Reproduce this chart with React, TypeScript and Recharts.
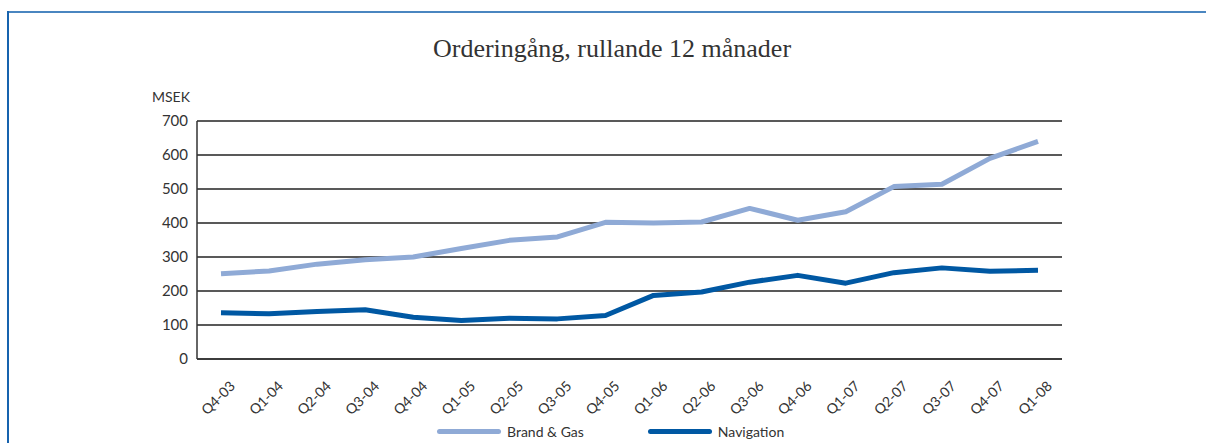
import { LineChart, Line, XAxis, YAxis, CartesianGrid } from "recharts";

const quarters = [
  "Q4-03", "Q1-04", "Q2-04", "Q3-04", "Q4-04", "Q1-05", "Q2-05", "Q3-05", "Q4-05",
  "Q1-06", "Q2-06", "Q3-06", "Q4-06", "Q1-07", "Q2-07", "Q3-07", "Q4-07", "Q1-08",
];
const brandGas = [251, 259, 279, 292, 300, 325, 349, 359, 402, 400, 403, 443, 408, 433, 507, 514, 590, 640];
const navigation = [136, 133, 140, 145, 123, 113, 120, 118, 128, 187, 197, 226, 246, 223, 254, 268, 258, 261];
const yTicks = [0, 100, 200, 300, 400, 500, 600, 700];

const LIGHT = "#8FAAD6";
const DARK = "#0058A3";
const FONT = "Lato, 'Open Sans', sans-serif";

const data = quarters.map((q, i) => ({ q, brand: brandGas[i], nav: navigation[i] }));

const QuarterTick = ({ x, y, payload }: any) => (
  <text
    transform={`translate(${x + 15},${y + 20}) rotate(-45)`}
    textAnchor="end"
    fontSize={14}
    fill="#333"
    fontFamily={FONT}
  >
    {payload.value}
  </text>
);

const legendItems = [
  { label: "Brand & Gas", color: LIGHT },
  { label: "Navigation", color: DARK },
];

export default function App() {
  return (
    <div style={{ position: "fixed", left: 0, top: 0, width: 1206, height: 443, background: "#fff", overflow: "hidden" }}>
      <div style={{ position: "absolute", left: 8, top: 11, right: 0, height: 2, background: "#4A86C0" }} />
      <div style={{ position: "absolute", left: 7, top: 11, width: 2, bottom: 0, background: "#1763AE" }} />
      <div
        style={{
          position: "absolute", left: 0, width: 1224, top: 34, textAlign: "center",
          fontFamily: "'Liberation Serif', serif", fontSize: 26, color: "#333",
        }}
      >
        Orderingång, rullande 12 månader
      </div>
      <div style={{ position: "absolute", left: 152, top: 88, fontFamily: FONT, fontSize: 14, color: "#333" }}>
        MSEK
      </div>
      <div style={{ position: "absolute", left: 0, top: 0 }}>
        <LineChart width={1206} height={443} data={data} margin={{ top: 121, right: 144, bottom: 0, left: 157 }}>
          <CartesianGrid vertical={false} stroke="#222" strokeWidth={1.3} />
          <XAxis
            dataKey="q"
            padding={{ left: 24, right: 24 }}
            tick={<QuarterTick />}
            tickLine={false}
            axisLine={{ stroke: "#333", strokeWidth: 1.5 }}
            interval={0}
            height={84}
          />
          <YAxis
            width={40}
            domain={[0, 700]}
            ticks={yTicks}
            tickLine={false}
            tickSize={0}
            tickMargin={9}
            axisLine={{ stroke: "#333", strokeWidth: 1.5 }}
            tick={{ fontSize: 15, fill: "#333", fontFamily: FONT }}
          />
          <Line dataKey="brand" stroke={LIGHT} strokeWidth={5} dot={false} isAnimationActive={false} strokeLinejoin="round" />
          <Line dataKey="nav" stroke={DARK} strokeWidth={5} dot={false} isAnimationActive={false} strokeLinejoin="round" />
        </LineChart>
      </div>
      <div style={{ position: "absolute", left: 437, top: 423, display: "flex", alignItems: "center", fontFamily: FONT, fontSize: 14, color: "#333" }}>
        {legendItems.map((it, i) => (
          <div key={it.label} style={{ display: "flex", alignItems: "center", marginRight: i === 0 ? 64 : 0 }}>
            <div style={{ width: 64, height: 5, borderRadius: 3, background: it.color, marginRight: 6 }} />
            <span>{it.label}</span>
          </div>
        ))}
      </div>
    </div>
  );
}
